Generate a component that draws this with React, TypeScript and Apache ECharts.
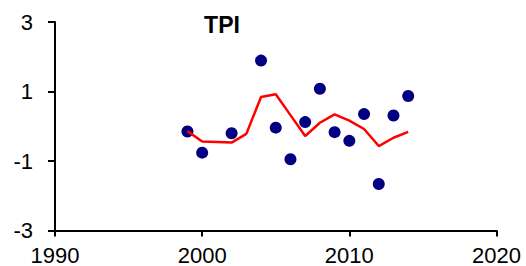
import React, { useEffect, useRef } from "react";
import * as echarts from "echarts";

const titleText = "TPI";
const scatterYears = [1999, 2000, 2002, 2004, 2005, 2006, 2007, 2008, 2009, 2010, 2011, 2012, 2013, 2014];
const scatterValues = [-0.15, -0.76, -0.2, 1.89, -0.04, -0.95, 0.12, 1.08, -0.17, -0.42, 0.35, -1.66, 0.31, 0.87];
const lineYears = [1999, 2000, 2001, 2002, 2003, 2004, 2005, 2006, 2007, 2008, 2009, 2010, 2011, 2012, 2013, 2014];
const lineValues = [-0.14, -0.44, -0.45, -0.47, -0.22, 0.84, 0.92, 0.32, -0.28, 0.1, 0.34, 0.16, -0.08, -0.57, -0.33, -0.16];
const yTicks = [-3, -1, 1, 3];
const xMin = 1990;
const xMax = 2020;
const xInterval = 10;

const FONT = "'Liberation Sans', Arial, sans-serif";

export default function App() {
  const ref = useRef<HTMLDivElement>(null);
  useEffect(() => {
    if (!ref.current) return;
    const chart = echarts.init(ref.current, null, { renderer: "svg" });
    chart.setOption({
      animation: false,
      backgroundColor: "#ffffff",
      grid: {
        left: 55,
        right: 29.5,
        top: 22,
        bottom: 35.5,
        containLabel: false,
        outerBoundsMode: "none",
      },
      graphic: [
        {
          type: "text",
          x: 222,
          y: 25,
          style: {
            text: titleText,
            font: `bold 23px ${FONT}`,
            fill: "#000",
            textAlign: "center",
            textVerticalAlign: "middle",
          },
        },
      ],
      xAxis: {
        type: "value",
        min: xMin,
        max: xMax,
        interval: xInterval,
        splitLine: { show: false },
        axisLine: { show: true, onZero: false, lineStyle: { color: "#000", width: 2 } },
        axisTick: { show: true, length: 6, lineStyle: { color: "#000", width: 2 } },
        axisLabel: {
          color: "#000",
          fontSize: 22,
          fontFamily: FONT,
          margin: 14,
          formatter: (v: number) => String(v),
        },
      },
      yAxis: {
        type: "value",
        min: -3,
        max: 3,
        splitLine: { show: false },
        axisLine: { show: true, onZero: false, lineStyle: { color: "#000", width: 2 } },
        axisTick: { show: true, length: 7, customValues: yTicks, lineStyle: { color: "#000", width: 2 } },
        axisLabel: {
          color: "#000",
          fontSize: 22,
          fontFamily: FONT,
          margin: 22,
          customValues: yTicks,
          formatter: (v: number) => String(v),
        },
      },
      series: [
        {
          type: "scatter",
          data: scatterYears.map((y, i) => [y, scatterValues[i]]),
          symbolSize: 12,
          itemStyle: { color: "#000080", opacity: 1 },
          z: 2,
        },
        {
          type: "line",
          data: lineYears.map((y, i) => [y, lineValues[i]]),
          showSymbol: false,
          symbol: "none",
          lineStyle: { color: "#ff0000", width: 2.5 },
          z: 3,
        },
      ],
    });
    return () => chart.dispose();
  }, []);
  return <div ref={ref} style={{ position: "fixed", left: 0, top: 0, width: 526, height: 266 }} />;
}
